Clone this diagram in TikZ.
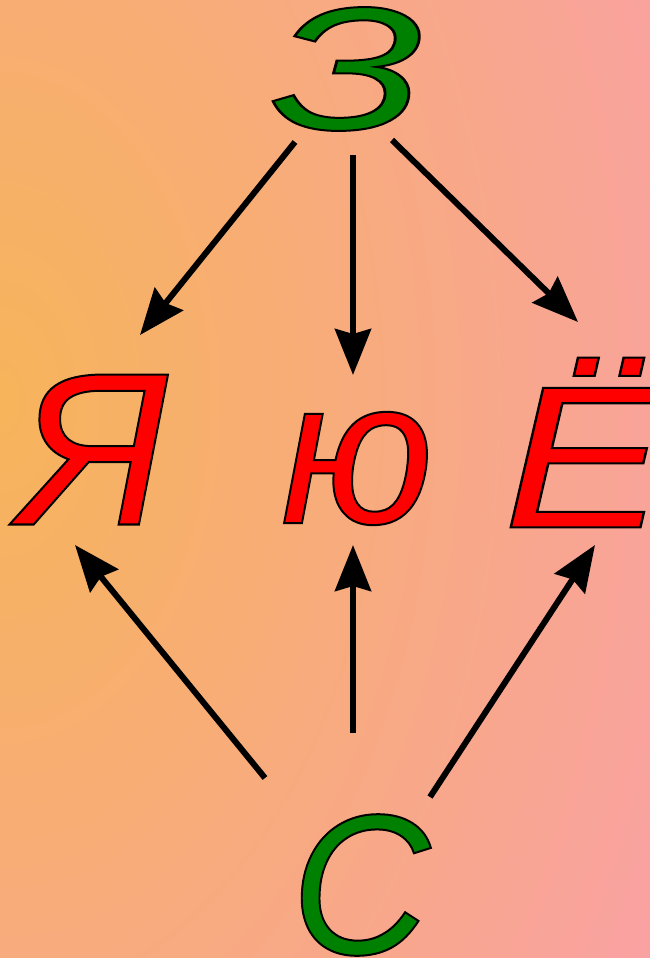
\documentclass[tikz,border=0pt]{standalone}
\usepackage{fontspec}
\usepackage{xcolor}
\usetikzlibrary{arrows.meta}
\setmainfont{Liberation Sans}
\definecolor{bgcenter}{HTML}{F7B45A}
\definecolor{bgedge}{HTML}{F9A0A8}
\definecolor{lettergreen}{HTML}{008000}
\definecolor{letterred}{HTML}{FF0000}
\pgfdeclareradialshading{bgglow}{\pgfpoint{0bp}{0bp}}{color(0bp)=(bgcenter); color(25bp)=(bgedge); color(50bp)=(bgedge)}
% filled glyph with a thin black rim
\newcommand\outlined[2]{{\color{#1}\special{pdf:literal direct 0 G 2 Tr 2 w}#2\special{pdf:literal direct 0 Tr}}}
% size, horizontal stretch, colour, glyph
\newcommand\bigletter[4]{\fontsize{#1}{#1}\itshape\scalebox{#2}[1]{\outlined{#3}{#4}}}

\begin{document}
\begin{tikzpicture}[x=1pt,y=-1pt,
  letter/.style={inner sep=0pt},
  arr/.style={line width=6pt, -{Stealth[length=46pt,width=36pt,inset=5pt]}}]
\fill[bgedge] (0,0) rectangle (650,958);
\begin{scope}
\clip (0,0) rectangle (650,958);
\shade[shading=bgglow] (0,400) ellipse [x radius=800, y radius=1250];
\end{scope}
\useasboundingbox (0,0) rectangle (650,958);

\node[letter] (Z) at (347.5,69) {\bigletter{175}{1.43}{lettergreen}{З}};
\node[letter] (Ya) at (93.5,449.5) {\bigletter{218}{1}{letterred}{Я}};
\node[letter] (Yu) at (357,468.5) {\bigletter{207}{0.98}{letterred}{ю}};
\node[letter] (Yo) at (584.5,442.5) {\bigletter{203}{1.2}{letterred}{Ё}};
\node[letter] (S) at (360.5,885) {\bigletter{200}{0.96}{lettergreen}{С}};

\draw[arr] ([shift={(-52.5,73)}]Z.center) -- ([shift={(46.5,-114.5)}]Ya.center);
\draw[arr] ([shift={(5.5,86)}]Z.center) -- ([shift={(-4,-93.5)}]Yu.center);
\draw[arr] ([shift={(44.5,71)}]Z.center) -- ([shift={(-6.5,-120.5)}]Yo.center);
\draw[arr] ([shift={(-95.5,-107)}]S.center) -- ([shift={(-18.5,95.5)}]Ya.center);
\draw[arr] ([shift={(-7.5,-152)}]S.center) -- ([shift={(-4,76.5)}]Yu.center);
\draw[arr] ([shift={(69.5,-88)}]S.center) -- ([shift={(10.5,102.5)}]Yo.center);
\end{tikzpicture}
\end{document}
